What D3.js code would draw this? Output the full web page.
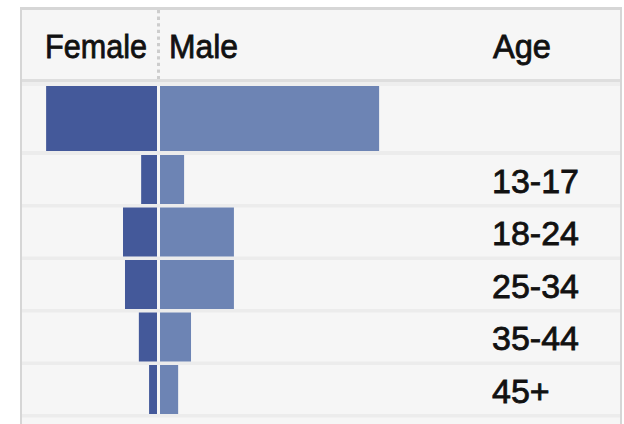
<!DOCTYPE html>
<html>
<head>
<meta charset="utf-8">
<script src="https://cdn.jsdelivr.net/npm/d3@7"></script>
<style>
  html, body { margin: 0; padding: 0; background: #fff; }
  svg { display: block; }
  text { font-family: "Liberation Sans", Arial, sans-serif; fill: #111; stroke: #111; stroke-width: 0.8px; }
</style>
</head>
<body>
<script>
// Audience share (% of all viewers) by gender and age
const genderLabels = ["Female", "Male"];
const genderTotals = [33.6, 66.4];
const ageGroups = ["13-17", "18-24", "25-34", "35-44", "45+"];
const femaleShare = [4.8, 10.3, 9.7, 5.5, 2.4];
const maleShare = [7.3, 22.4, 22.4, 9.4, 5.5];
const headerAge = "Age";

const W = 624, H = 424;
const colors = { female: "#44599a", male: "#6d84b4" };

const svg = d3.select("body").append("svg")
  .attr("width", W).attr("height", H);

// panel frame and background
svg.append("rect").attr("x", 20).attr("y", 7).attr("width", 602).attr("height", H - 7).attr("fill", "#d6d6d6");
svg.append("rect").attr("x", 22).attr("y", 10).attr("width", 598).attr("height", H - 10).attr("fill", "#f6f6f6");

// shared centre: female grows left, male grows right
const femaleEdge = 157, maleEdge = 160;
const w = d3.scaleLinear().domain([0, 100]).range([0, 330]);

// header
svg.append("line")
  .attr("x1", 158.5).attr("x2", 158.5).attr("y1", 10).attr("y2", 79)
  .attr("stroke", "#cdcdcd").attr("stroke-width", 3).attr("stroke-dasharray", "3.3,3.3");
svg.append("rect").attr("x", 22).attr("y", 79).attr("width", 598).attr("height", 3).attr("fill", "#dedede");
svg.append("rect").attr("x", 22).attr("y", 82).attr("width", 598).attr("height", 4).attr("fill", "#eeeeee");

svg.append("text").attr("x", 147).attr("y", 58).attr("text-anchor", "end")
  .attr("font-size", 34).attr("textLength", 102).attr("lengthAdjust", "spacingAndGlyphs")
  .text(genderLabels[0]);
svg.append("text").attr("x", 169).attr("y", 58)
  .attr("font-size", 34).attr("textLength", 69).attr("lengthAdjust", "spacingAndGlyphs")
  .text(genderLabels[1]);
svg.append("text").attr("x", 493).attr("y", 58)
  .attr("font-size", 34).attr("textLength", 58).attr("lengthAdjust", "spacingAndGlyphs")
  .text(headerAge);

// totals row
const totalTop = 86, totalH = 65;
svg.append("rect").attr("x", femaleEdge - w(genderTotals[0])).attr("y", totalTop)
  .attr("width", w(genderTotals[0])).attr("height", totalH).attr("fill", colors.female);
svg.append("rect").attr("x", maleEdge).attr("y", totalTop)
  .attr("width", w(genderTotals[1])).attr("height", totalH).attr("fill", colors.male);
svg.append("rect").attr("x", 22).attr("y", totalTop + totalH).attr("width", 598).attr("height", 4).attr("fill", "#ececec");

// age rows
const y = d3.scaleBand().domain(ageGroups).range([155, 417.5]);
const sepH = 3.5;
const barH = y.bandwidth() - sepH;

const rows = svg.append("g").selectAll("g")
  .data(ageGroups.map((g, i) => ({ g, f: femaleShare[i], m: maleShare[i] })))
  .join("g");

rows.append("rect")
  .attr("x", 22).attr("y", d => y(d.g) + barH)
  .attr("width", 598).attr("height", sepH).attr("fill", "#ececec");
rows.append("rect")
  .attr("x", d => femaleEdge - w(d.f)).attr("y", d => y(d.g))
  .attr("width", d => w(d.f)).attr("height", barH).attr("fill", colors.female);
rows.append("rect")
  .attr("x", maleEdge).attr("y", d => y(d.g))
  .attr("width", d => w(d.m)).attr("height", barH).attr("fill", colors.male);
rows.append("text")
  .attr("x", 492).attr("y", d => y(d.g) + barH / 2 + 13)
  .attr("font-size", 34).text(d => d.g);
</script>
</body>
</html>
